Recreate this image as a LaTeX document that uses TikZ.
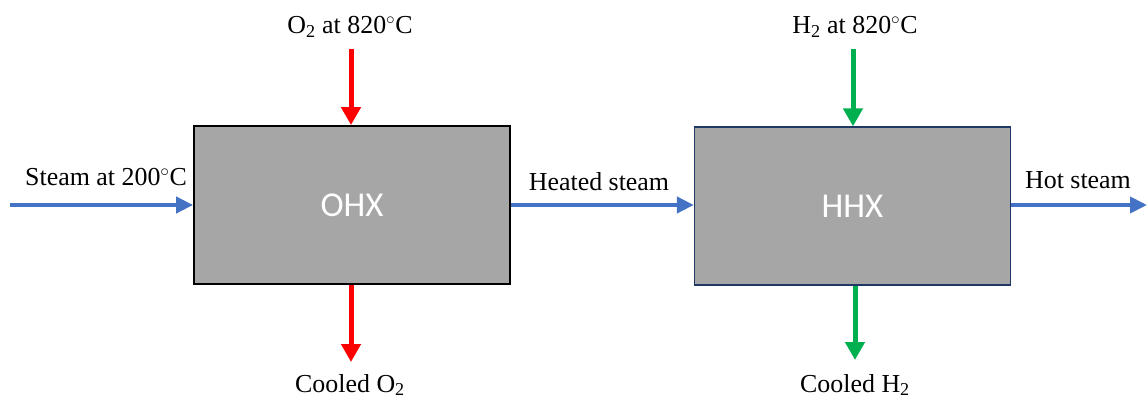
\documentclass[tikz,border=0pt]{standalone}
\usepackage{fontspec}
\setmainfont{Liberation Serif}
\newfontfamily\boxfont{Carlito}
\usetikzlibrary{arrows.meta}
\definecolor{flowblue}{HTML}{4472C4}
\definecolor{hotred}{HTML}{FF0000}
\definecolor{hgreen}{HTML}{00B050}
\definecolor{boxgray}{HTML}{A6A6A6}
\definecolor{boxblue}{HTML}{1F3864}
\begin{document}
\begin{tikzpicture}[x=1bp,y=1bp,
  hx/.style={rectangle, fill=boxgray, minimum width=316bp, minimum height=158bp, inner sep=0pt,
    font=\boxfont\fontsize{35}{40}\selectfont, text=white},
  lbl/.style={font=\fontsize{26}{30}\selectfont, inner sep=0pt},
  steamflow/.style={draw=flowblue, line width=4bp, -{Triangle[width=16bp,length=17bp]}},
  o2flow/.style={draw=hotred, line width=5bp, -{Triangle[width=19bp,length=18bp]}},
  h2flow/.style={draw=hgreen, line width=5bp, -{Triangle[width=19bp,length=18bp]}}]
\useasboundingbox (0,0) rectangle (1147,406);
\node[hx, draw=black, line width=1.8bp] (ohx) at (352,201) {OHX};
\node[hx, draw=boxblue, line width=1.3bp] (hhx) at (852.5,200) {HHX};
\coordinate (sin) at (10,201);
\coordinate (sout) at (1147,201);
\coordinate (o2in) at (351,357);
\coordinate (o2out) at (351,44);
\coordinate (h2in) at (853,357);
\coordinate (h2out) at (855,46);
\draw[steamflow] (sin) -- (sin -| ohx.west);
\draw[steamflow] (ohx.east |- sin) -- (hhx.west |- sin);
\draw[steamflow] (hhx.east |- sin) -- (sout);
\draw[o2flow] (o2in) -- (o2in |- ohx.north);
\draw[o2flow] (o2out |- ohx.south) -- (o2out);
\draw[h2flow] (h2in) -- (h2in |- hhx.north);
\draw[h2flow] (h2out |- hhx.south) -- (h2out);
\node[lbl] (lo2) at (350,379) {O\textsubscript{2} at 820$^\circ$C};
\node[lbl] (lh2) at (855,379) {H\textsubscript{2} at 820$^\circ$C};
\node[lbl] (lco2) at (350,21) {Cooled O\textsubscript{2}};
\node[lbl] (lch2) at (855,21) {Cooled H\textsubscript{2}};
\node[lbl] (lsteam) at (106,229) {Steam at 200$^\circ$C};
\node[lbl] (lheat) at (599,224) {Heated steam};
\node[lbl] (lhot) at (1078,226) {Hot steam};
\end{tikzpicture}
\end{document}
